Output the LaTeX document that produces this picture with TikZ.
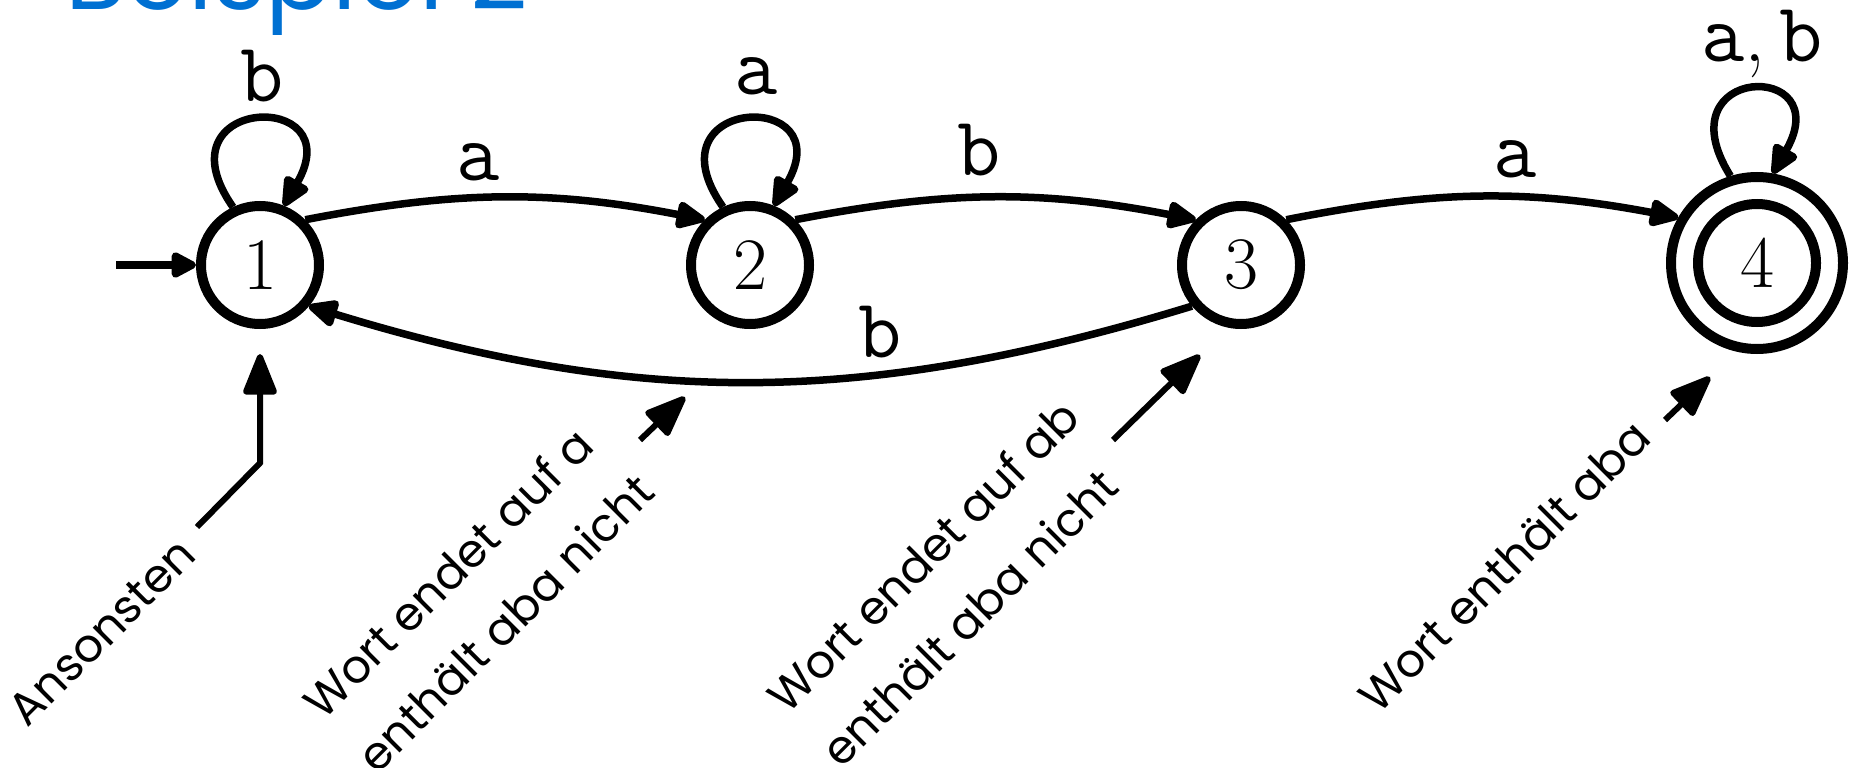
\documentclass[tikz,border=0pt]{standalone}
\usepackage{fontspec}
\newfontfamily\annfont{Poppins}
\usetikzlibrary{arrows.meta,calc}
\definecolor{titleblue}{RGB}{0,112,210}

\begin{document}
\begin{tikzpicture}[x=1pt,y=1pt,
  state/.style={circle, draw, line width=10pt, minimum size=118pt, inner sep=0pt,
    font=\fontsize{74}{80}\selectfont},
  edge/.style={line width=7.5pt, -{Triangle[length=34pt,width=29pt,round]}},
  lbl/.style={font=\fontsize{84}{90}\selectfont\ttfamily, inner sep=0pt, anchor=base},
  note/.style={font=\annfont\fontsize{46}{76}\selectfont, rotate=45, align=left, inner sep=0pt},
  notearrow/.style={line width=6pt, -{Triangle[length=46pt,width=35pt,round]}},
]
\useasboundingbox (0,0) rectangle (1853,-768);

% heading, partly above the page
\node[anchor=base west, inner sep=0pt, text=titleblue,
  font=\annfont\fontsize{100}{110}\selectfont] (title) at (65,-10) {Beispiel 2};

% states
\node[state] (s1) at (260,-265) {1};
\node[state] (s2) at (750,-265) {2};
\node[state] (s3) at (1241,-265) {3};
\node[state, minimum size=172pt] (s4) at (1757,-263) {};
\node[state] (s4in) at (s4) {4};

% initial arrow
\coordinate (init) at (116,-265);
\draw[line width=8pt, -{Triangle[length=29pt,width=28pt,round]}] (init) -- (s1);

% self loops
\draw[edge] (s1.115) .. controls ($(s1.115)+(125:136)$) and ($(s1.68)+(60:136)$) .. (s1.68);
\draw[edge] (s2.115) .. controls ($(s2.115)+(125:136)$) and ($(s2.68)+(60:136)$) .. (s2.68);
\draw[edge] (s4.107) .. controls ($(s4.107)+(122:132)$) and ($(s4.80)+(60:132)$) .. (s4.80);

% transitions
\draw[edge] (s1.45) to[bend left=11] (s2.135);
\draw[edge] (s2.45) to[bend left=11] (s3.135);
\draw[edge] (s3.45) to[bend left=11] (s4.150);
\draw[edge] (s3.220) to[bend left=17] (s1.320);

% transition labels
\node[lbl] (l11) at (262,-102) {b};
\node[lbl] (l22) at (756,-95) {a};
\node[lbl] (l44) at (1762,-62) {a{\rmfamily,}\,b};
\node[lbl] (l12) at (478,-180) {a};
\node[lbl] (l23) at (979,-175) {b};
\node[lbl] (l34) at (1515,-177) {a};
\node[lbl] (l31) at (880,-357) {b};

% annotations
\coordinate (n1a) at (197,-527);
\coordinate (n1b) at (260,-463);
\draw[notearrow, shorten >=25pt] (n1a) -- (n1b) -- (s1.south);
\coordinate (n2a) at (640,-440);
\coordinate (n2b) at (685,-397);
\draw[notearrow] (n2a) -- (n2b);
\coordinate (n3a) at (1113,-440);
\coordinate (n3b) at (1200,-355);
\draw[notearrow] (n3a) -- (n3b);
\coordinate (n4a) at (1665,-420);
\coordinate (n4b) at (1710,-377);
\draw[notearrow] (n4a) -- (n4b);

\node[note] (t1) at (102,-632) {Ansonsten};
\node[note] (t2) at (478,-596) {Wort endet auf a\\enthält aba nicht};
\node[note] (t3) at (950,-583) {Wort endet auf ab\\enthält aba nicht};
\node[note] (t4) at (1504,-566) {Wort enthält aba};
\end{tikzpicture}
\end{document}
